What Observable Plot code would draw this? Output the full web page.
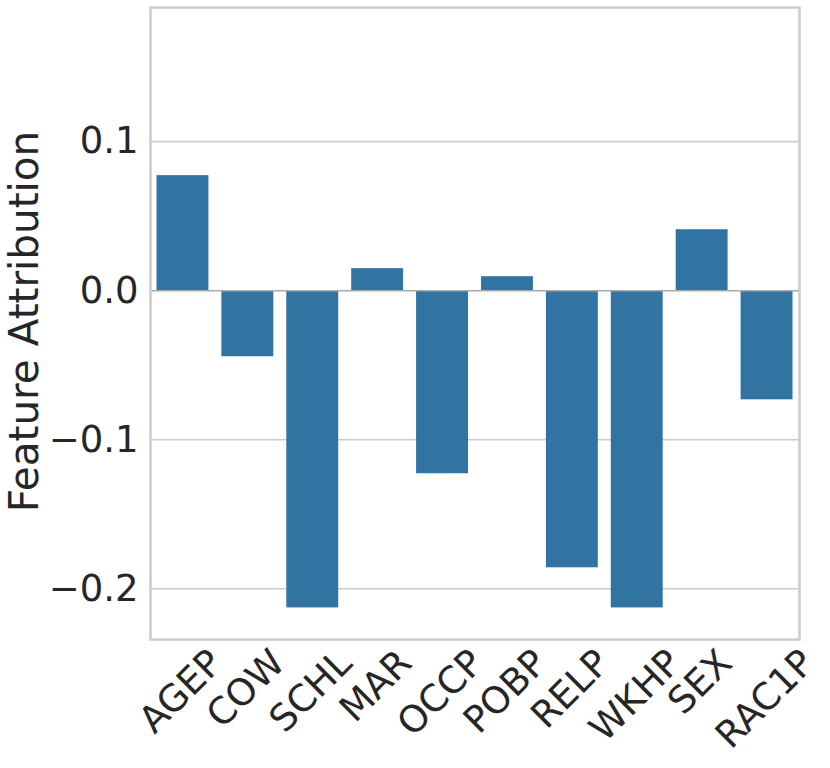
<!DOCTYPE html>
<html>
<head>
<meta charset="utf-8">
<script src="https://cdn.jsdelivr.net/npm/d3@7"></script>
<script src="https://cdn.jsdelivr.net/npm/@observablehq/plot@0.6"></script>
<style>
  html, body { margin: 0; padding: 0; background: #fff; }
  #chart { width: 830px; height: 768px; }
</style>
</head>
<body>
<div id="chart"></div>
<script>
const features = ["AGEP", "COW", "SCHL", "MAR", "OCCP", "POBP", "RELP", "WKHP", "SEX", "RAC1P"];
const values = [0.0772, -0.0443, -0.2128, 0.0148, -0.1228, 0.0094, -0.1859, -0.2128, 0.0409, -0.0732];
const yTicks = [-0.2, -0.1, 0.0, 0.1];
const yLabel = "Feature Attribution";

const data = features.map((f, i) => ({feature: f, value: values[i]}));
const textColor = "#262626";
const tickFont = 37;
const labelFont = 40.5;

const W = 830, H = 768, mL = 150, mR = 31, mT = 7, mB = 129;

// measure label widths so each rotated label is centred under its bar (like matplotlib)
const ctx = document.createElement("canvas").getContext("2d");
ctx.font = `${tickFont}px "DejaVu Sans"`;
const labelMarks = features.map(f => {
  const w = ctx.measureText(f).width;
  return Plot.text([f], {x: d => d, frameAnchor: "bottom", rotate: -45, textAnchor: "end",
    lineAnchor: "top", dx: 0.354 * w - 12, dy: 7, fontSize: tickFont, fill: textColor});
});

const chart = Plot.plot({
  width: W,
  height: H,
  marginLeft: mL,
  marginRight: mR,
  marginTop: mT,
  marginBottom: mB,
  style: {fontFamily: "DejaVu Sans", fontSize: "37px", color: textColor, background: "#fff"},
  x: {domain: features, paddingInner: 0.2, paddingOuter: 0.1, round: false, axis: null},
  y: {domain: [-0.234, 0.19], axis: null},
  marks: [
    Plot.ruleY(yTicks.filter(d => d !== 0), {stroke: "#cccccc", strokeWidth: 1.6}),
    Plot.barY(data, {x: "feature", y: "value", fill: "#3274a1"}),
    Plot.ruleY([0], {stroke: "#aaaaaa", strokeWidth: 1.6}),
    Plot.frame({stroke: "#cccccc", strokeWidth: 2.5}),
    Plot.axisY({ticks: yTicks, tickFormat: d3.format(".1f"), tickSize: 0, tickPadding: 12,
      fontSize: tickFont, fill: textColor, label: null}),
    ...labelMarks,
    Plot.text([yLabel], {frameAnchor: "left", rotate: -90, dx: -125, dy: -2, fontSize: labelFont,
      fill: textColor, lineAnchor: "middle", textAnchor: "middle"})
  ]
});
document.getElementById("chart").appendChild(chart);
</script>
</body>
</html>
